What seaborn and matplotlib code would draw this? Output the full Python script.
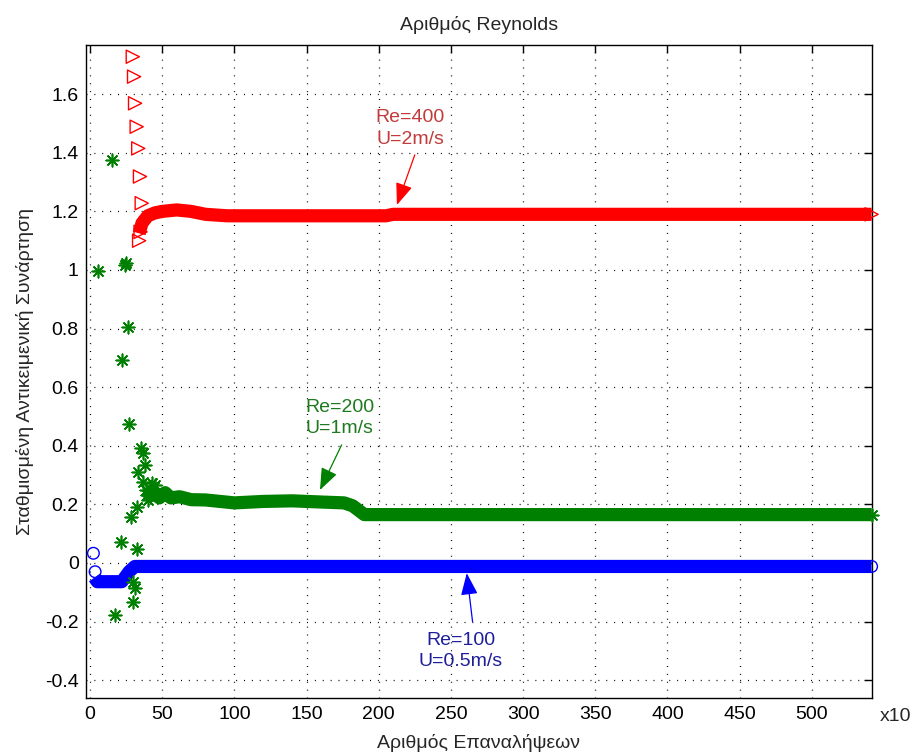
import matplotlib
matplotlib.use("Agg")
import matplotlib.pyplot as plt
import seaborn as sns
import pandas as pd

# ---------------- data (x axis in units of 10 iterations) ----------------
xticks = [0, 50, 100, 150, 200, 250, 300, 350, 400, 450, 500]
yticks = [-0.4, -0.2, 0, 0.2, 0.4, 0.6, 0.8, 1.0, 1.2, 1.4, 1.6]
ytick_labels = ["-0.4", "-0.2", "0", "0.2", "0.4", "0.6", "0.8", "1", "1.2", "1.4", "1.6"]

# Re = 100 (blue circles)
re100_band_x = [3, 5, 22, 27, 31, 541.5]
re100_band_y = [-0.05, -0.064, -0.064, -0.03, -0.012, -0.012]
re100_pts_x = [2.3, 3.5, 541.5]
re100_pts_y = [0.033, -0.03, -0.012]

# Re = 200 (green stars)
re200_band_x = [39, 42, 45, 48, 52, 56, 62, 70, 80, 100, 120, 140, 160, 176, 182, 190, 541.5]
re200_band_y = [0.245, 0.23, 0.24, 0.222, 0.24, 0.222, 0.226, 0.216, 0.215, 0.205, 0.21, 0.212,
                0.208, 0.205, 0.195, 0.165, 0.165]
re200_pts_x = [5.7, 15.2, 24.2, 25.0, 26.5, 22.4, 27.0, 35.3, 36.5, 33.4, 38.0, 36.9, 32.8,
               28.2, 21.5, 32.3, 30.0, 31.2, 29.6, 17.3, 40.4, 45.0, 42.7, 39.3, 38.5, 541.5]
re200_pts_y = [0.997, 1.376, 1.017, 1.025, 0.804, 0.693, 0.474, 0.391, 0.376, 0.311, 0.334,
               0.277, 0.192, 0.156, 0.072, 0.046, -0.064, -0.087, -0.132, -0.178, 0.215,
               0.266, 0.272, 0.232, 0.25, 0.165]

# Re = 400 (red triangles)
re400_band_x = [34, 36, 40, 45, 50, 60, 70, 80, 95, 205, 210, 541.5]
re400_band_y = [1.125, 1.16, 1.185, 1.195, 1.2, 1.205, 1.2, 1.19, 1.185, 1.185, 1.19, 1.19]
re400_pts_x = [29.6, 30.5, 31.2, 32.3, 33.4, 34.6, 35.8, 34.0, 35.0, 541.5]
re400_pts_y = [1.728, 1.660, 1.569, 1.489, 1.415, 1.319, 1.228, 1.10, 1.13, 1.19]

# ---------------- styling ----------------
sns.set_style("white")
plt.rcParams["font.family"] = ["Liberation Sans Narrow", "Liberation Sans", "DejaVu Sans"]
FS = 14

BLUE = (0, 0, 1)
GREEN = (0, 0.5, 0)
RED = (1, 0, 0)

fig = plt.figure(figsize=(9.17, 7.55), dpi=100)
ax = fig.add_axes([0.0935, 0.0755, 0.857, 0.8649])

band_lw = 9.5
for bx, by, col in [(re400_band_x, re400_band_y, RED),
                    (re200_band_x, re200_band_y, GREEN),
                    (re100_band_x, re100_band_y, BLUE)]:
    df = pd.DataFrame({"x": bx, "y": by})
    sns.lineplot(data=df, x="x", y="y", ax=ax, color=col, lw=band_lw, sort=False,
                 estimator=None, solid_capstyle="butt", solid_joinstyle="round", zorder=3)

sns.scatterplot(x=re400_pts_x, y=re400_pts_y, ax=ax, marker=">", s=90, color=RED,
                facecolor="none", edgecolor=RED, linewidth=1.0, zorder=4, clip_on=False)
sns.scatterplot(x=re200_pts_x, y=re200_pts_y, ax=ax, marker=(8, 2, 0), s=80, color=GREEN,
                linewidth=1.2, zorder=4, clip_on=False)
sns.scatterplot(x=re100_pts_x, y=re100_pts_y, ax=ax, marker="o", s=70, color=BLUE,
                facecolor="none", edgecolor=BLUE, linewidth=1.0, zorder=4, clip_on=False)

ax.set_xlim(-3, 541.5)
ax.set_ylim(-0.461, 1.768)
ax.set_xticks(xticks)
ax.set_xticklabels([str(v) for v in xticks])
ax.set_yticks(yticks)
ax.set_yticklabels(ytick_labels)

ax.grid(True, color="black", linestyle=(0, (0.8, 5.5)), linewidth=0.9)
ax.set_axisbelow(True)
for sp in ax.spines.values():
    sp.set_color("black")
    sp.set_linewidth(1.0)
ax.tick_params(direction="in", length=6, width=1, top=True, right=True,
               labelsize=FS, colors="black")
ax.tick_params(axis="x", pad=6)
ax.tick_params(axis="y", pad=5)

ax.set_title("Αριθμός Reynolds", fontsize=FS, pad=11)
ax.set_xlabel("Αριθμός Επαναλήψεων", fontsize=FS)
ax.set_ylabel("Σταθμισμένη Αντικειμενική Συνάρτηση", fontsize=FS)
ax.xaxis.label.set_va("center")
ax.xaxis.set_label_coords(0.5, -0.069)
ax.yaxis.set_label_coords(-0.066, 0.5)

ax.text(1.0105, -0.028, "x10", transform=ax.transAxes, fontsize=FS, ha="left", va="center")

arrow_kw = dict(arrowstyle="-|>,head_length=0.9,head_width=0.35", mutation_scale=15, lw=0.9,
                shrinkA=0, shrinkB=0)
# Re=400 annotation
ax.text(222, 1.483, "Re=400\nU=2m/s", color="#C23A3A", ha="center", va="center",
        fontsize=FS, linespacing=1.35)
ax.annotate("", xy=(212.6, 1.222), xytext=(225, 1.393),
            arrowprops=dict(color=RED, **arrow_kw), zorder=6)
# Re=200 annotation
ax.text(173, 0.495, "Re=200\nU=1m/s", color="#1E7A1E", ha="center", va="center",
        fontsize=FS, linespacing=1.35)
ax.annotate("", xy=(159.3, 0.249), xytext=(174.3, 0.403),
            arrowprops=dict(color=GREEN, **arrow_kw), zorder=6)
# Re=100 annotation
ax.text(257, -0.30, "Re=100\nU=0.5m/s", color="#1E1E9A", ha="center", va="center",
        fontsize=FS, linespacing=1.35)
ax.annotate("", xy=(261, -0.035), xytext=(265, -0.2),
            arrowprops=dict(color=BLUE, **arrow_kw), zorder=6)

fig.savefig("out.png", dpi=100)
